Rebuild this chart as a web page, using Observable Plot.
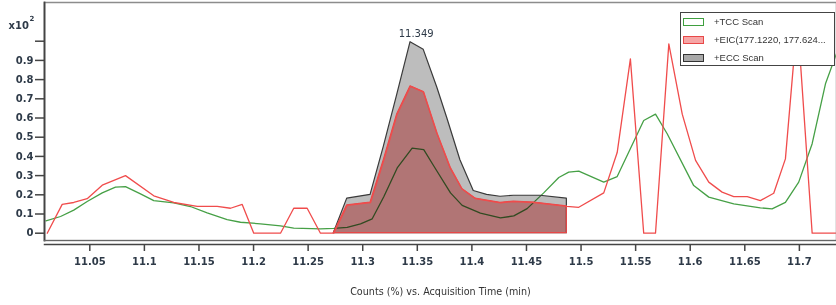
<!DOCTYPE html>
<html><head><meta charset="utf-8">
<script src="https://cdn.jsdelivr.net/npm/d3@7"></script>
<script src="https://cdn.jsdelivr.net/npm/@observablehq/plot@0.6"></script>
<style>
html,body{margin:0;padding:0;background:#fff;}
#wrap{position:relative;width:836px;height:305px;overflow:hidden;}
#legend{position:absolute;left:680px;top:12px;width:155px;height:54px;border:1px solid #444;background:#fff;box-sizing:border-box;font-family:"Liberation Sans",Arial,sans-serif;font-size:9.5px;color:#333;}
.row{position:absolute;left:2px;height:12px;width:150px;}
.sw{position:absolute;left:0;top:2px;width:21px;height:8px;box-sizing:border-box;border:1.5px solid;}
.lab{position:absolute;left:31px;top:0;line-height:12px;white-space:nowrap;}
</style></head>
<body>
<div id="wrap"></div>
<script>
// TCC Scan (green)
const tccTime = [11.0098,11.0232,11.0353,11.0476,11.0614,11.0735,11.0827,11.0964,11.1086,11.1269,11.1422,11.1575,11.1758,11.1880,11.2063,11.2247,11.2368,11.2613,11.2735,11.2858,11.2980,11.3087,11.3193,11.3316,11.3453,11.3559,11.3651,11.3804,11.3911,11.4078,11.4262,11.4384,11.4506,11.4658,11.4796,11.4887,11.4979,11.5208,11.5331,11.5574,11.5682,11.5789,11.6032,11.6170,11.6399,11.6643,11.6750,11.6872,11.6994,11.7117,11.7239,11.7339];
const tccVal  = [0.064,0.087,0.12,0.165,0.21,0.24,0.243,0.205,0.17,0.158,0.139,0.106,0.071,0.057,0.049,0.038,0.026,0.023,0.025,0.03,0.049,0.075,0.19,0.34,0.443,0.435,0.35,0.21,0.145,0.105,0.08,0.09,0.128,0.21,0.29,0.318,0.323,0.266,0.295,0.587,0.62,0.518,0.248,0.188,0.153,0.132,0.127,0.161,0.266,0.466,0.778,0.934];
// EIC (red)
const eicTime = [11.0110,11.0247,11.0353,11.0476,11.0614,11.0827,11.1086,11.1269,11.1484,11.1667,11.1789,11.1896,11.2002,11.2247,11.2368,11.2491,11.2613,11.2735,11.2858,11.3072,11.3193,11.3316,11.3438,11.3559,11.3682,11.3804,11.3911,11.4033,11.4262,11.4384,11.4567,11.4750,11.4870,11.4979,11.5208,11.5331,11.5452,11.5574,11.5682,11.5804,11.5927,11.6049,11.6170,11.6292,11.6399,11.6522,11.6643,11.6765,11.6872,11.6982,11.7117,11.7339];
const eicVal  = [0,0.15,0.16,0.18,0.25,0.30,0.195,0.16,0.14,0.14,0.13,0.15,0,0,0.13,0.13,0,0,0.145,0.16,0.38,0.62,0.765,0.735,0.52,0.34,0.23,0.18,0.158,0.165,0.16,0.148,0.14,0.135,0.21,0.42,0.908,0,0,0.986,0.62,0.379,0.266,0.214,0.191,0.191,0.17,0.208,0.387,1.12,0,0];
// ECC Scan (grey, filled)
const eccTime = [11.2735,11.2858,11.3072,11.3193,11.3316,11.3438,11.3559,11.3682,11.3774,11.3895,11.4017,11.4139,11.4262,11.4384,11.4628,11.4870];
const eccVal  = [0,0.18,0.20,0.45,0.72,0.995,0.955,0.76,0.60,0.38,0.22,0.20,0.19,0.195,0.195,0.18];

const xTicks = [11.05,11.1,11.15,11.2,11.25,11.3,11.35,11.4,11.45,11.5,11.55,11.6,11.65,11.7];
const yTicks = [0,0.1,0.2,0.3,0.4,0.5,0.6,0.7,0.8,0.9,1.0];
const peakLabels = [{time:11.349, value:0.995, text:"11.349"}];
const xTitle = "Counts (%) vs. Acquisition Time (min)";
const legendItems = [
  {label:"+TCC Scan", fill:"#ffffff", stroke:"#3f9f3f"},
  {label:"+EIC(177.1220, 177.624...", fill:"#f6a6a6", stroke:"#e84848"},
  {label:"+ECC Scan", fill:"#a9a9a9", stroke:"#333333"}
];

const tcc = tccTime.map((t,i)=>({t, v:tccVal[i]}));
const eic = eicTime.map((t,i)=>({t, v:eicVal[i]}));
const ecc = eccTime.map((t,i)=>({t, v:eccVal[i]}));
const t0 = eccTime[0]-1e-9, t1 = eccTime[eccTime.length-1]+1e-9;
const eicFill = eic.filter(d => d.t >= t0 && d.t <= t1);

const chart = Plot.plot({
  width:836, height:305,
  marginLeft:44, marginRight:0, marginTop:2, marginBottom:65,
  x:{domain:[11.0085,11.734]},
  y:{domain:[-0.038,1.2016]},
  style:{fontFamily:"DejaVu Sans", background:"#fff", overflow:"visible"},
  marks:[
    Plot.line(tcc,{x:"t",y:"v",stroke:"#46a046",strokeWidth:1.3}),
    Plot.areaY(ecc,{x:"t",y:"v",fill:"#bdbdbd",mixBlendMode:"multiply"}),
    Plot.areaY(eicFill,{x:"t",y:"v",fill:"#ef9e9e",mixBlendMode:"multiply"}),
    Plot.areaY(ecc,{x:"t",y:"v",fill:"none",stroke:"#3a3a3a",strokeWidth:1.2}),
    Plot.areaY(eicFill,{x:"t",y:"v",fill:"none",stroke:"#e84848",strokeWidth:1.2}),
    Plot.line(eic,{x:"t",y:"v",stroke:"#f04c4c",strokeWidth:1.3}),
    Plot.frame({stroke:"#8c8c8c", strokeWidth:1.5}),
    Plot.frame({anchor:"left", stroke:"#444", strokeWidth:1.8}),
    Plot.frame({anchor:"bottom", stroke:"#666", strokeWidth:1.2}),
    Plot.frame({anchor:"bottom", dy:4, stroke:"#444", strokeWidth:1.5}),
    Plot.axisY({ticks:yTicks, tickSize:9, tickPadding:2, label:null,
      tickFormat: d => d >= 0.999 ? "" : (d === 0 ? "0" : d.toFixed(1)),
      fontWeight:"bold", fontSize:10, fill:"#2e3a48", stroke:"#444", strokeWidth:1.5}),
    Plot.axisX({ticks:xTicks, tickSize:7, tickPadding:6, dy:4, label:null,
      tickFormat: d => String(+d.toFixed(2)),
      fontWeight:"bold", fontSize:10, fill:"#2e3a48", stroke:"#444", strokeWidth:1.5}),
    Plot.text([xTitle],{frameAnchor:"bottom", dy:54, fontSize:9.6, fill:"#333", text:d=>d}),
    Plot.text(peakLabels,{x:"time", y:"value", text:"text", dy:-8, fontSize:10, fill:"#2e3a48"}),
    Plot.text(["x10"],{frameAnchor:"top-left", dx:-36, dy:19, textAnchor:"start", fontSize:10, fontWeight:"bold", fill:"#2e3a48", text:d=>d}),
    Plot.text(["2"],{frameAnchor:"top-left", dx:-15, dy:14, textAnchor:"start", fontSize:7, fontWeight:"bold", fill:"#2e3a48", text:d=>d})
  ]
});
const wrap = document.getElementById("wrap");
wrap.appendChild(chart);

const leg = document.createElement("div");
leg.id = "legend";
const rowTops = [3, 21, 39];
legendItems.forEach((it, i) => {
  const r = document.createElement("div");
  r.className = "row";
  r.style.top = rowTops[i] + "px";
  const sw = document.createElement("div");
  sw.className = "sw";
  sw.style.background = it.fill;
  sw.style.borderColor = it.stroke;
  const lab = document.createElement("div");
  lab.className = "lab";
  lab.textContent = it.label;
  r.appendChild(sw); r.appendChild(lab);
  leg.appendChild(r);
});
wrap.appendChild(leg);
</script>
</body></html>
